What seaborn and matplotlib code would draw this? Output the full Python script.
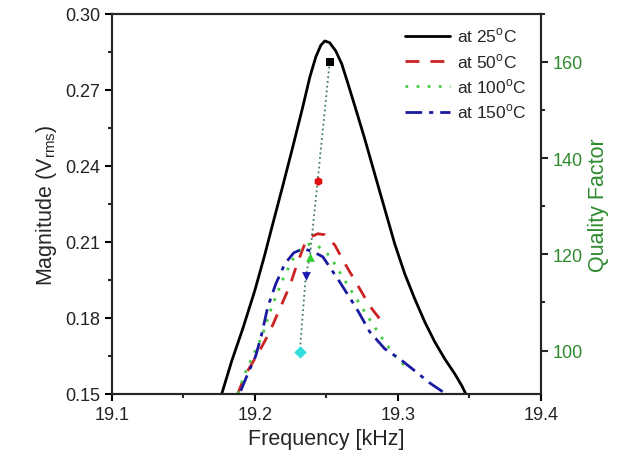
import numpy as np
import pandas as pd
import seaborn as sns
import matplotlib
matplotlib.use("Agg")
import matplotlib.pyplot as plt
from matplotlib.ticker import MultipleLocator, FormatStrFormatter

# Frequency response curves (kHz, Vrms)
f_25 = [19.1769, 19.1839, 19.1916, 19.2000, 19.2070, 19.2126, 19.2196,
        19.2266, 19.2336, 19.2385, 19.2427, 19.2462, 19.2490, 19.2524,
        19.2566, 19.2608, 19.2650, 19.2706, 19.2769, 19.2839, 19.2909,
        19.2979, 19.3049, 19.3119, 19.3189, 19.3259, 19.3329, 19.3399,
        19.3448, 19.3476]
m_25 = [0.1500, 0.1630, 0.1757, 0.1907, 0.2049, 0.2171, 0.2321,
        0.2475, 0.2633, 0.2750, 0.2830, 0.2876, 0.2893, 0.2886,
        0.2854, 0.2803, 0.2728, 0.2625, 0.2507, 0.2368, 0.2230,
        0.2092, 0.1974, 0.1875, 0.1784, 0.1705, 0.1638, 0.1579,
        0.1532, 0.1500]

f_50 = [19.1881, 19.1909, 19.1951, 19.2000, 19.2049, 19.2105, 19.2175,
        19.2245, 19.2301, 19.2350, 19.2392, 19.2441, 19.2490, 19.2559,
        19.2636, 19.2734, 19.2804, 19.2874]
m_50 = [0.1500, 0.1540, 0.1591, 0.1638, 0.1686, 0.1745, 0.1836,
        0.1926, 0.2021, 0.2092, 0.2120, 0.2132, 0.2128, 0.2088,
        0.2009, 0.1915, 0.1847, 0.1796]

f_100 = [19.1881, 19.1930, 19.1986, 19.2049, 19.2119, 19.2189, 19.2259,
         19.2322, 19.2385, 19.2441, 19.2524, 19.2636, 19.2755, 19.2874,
         19.2979, 19.3084]
m_100 = [0.1500, 0.1579, 0.1650, 0.1725, 0.1843, 0.1942, 0.2025,
         0.2072, 0.2092, 0.2084, 0.2045, 0.1942, 0.1836, 0.1733,
         0.1650, 0.1591]

f_150 = [19.1902, 19.1951, 19.2007, 19.2049, 19.2091, 19.2147, 19.2210,
         19.2273, 19.2336, 19.2399, 19.2476, 19.2594, 19.2713, 19.2804,
         19.2909, 19.3014, 19.3119, 19.3224, 19.3336]
m_150 = [0.1512, 0.1579, 0.1650, 0.1737, 0.1843, 0.1934, 0.2013,
         0.2057, 0.2072, 0.2064, 0.2041, 0.1942, 0.1836, 0.1745,
         0.1678, 0.1638, 0.1591, 0.1543, 0.1500]

# Quality factor at resonance for each temperature
q_freq = [19.2524, 19.2440, 19.2385, 19.2357, 19.2315]
q_value = [160, 135.3, 119.5, 115.6, 99.8]

labels = ["at 25$^{\\rm o}$C", "at 50$^{\\rm o}$C",
          "at 100$^{\\rm o}$C", "at 150$^{\\rm o}$C"]

sns.set_style("ticks")
plt.rcParams["font.family"] = ["Liberation Sans", "DejaVu Sans"]
plt.rcParams["mathtext.fontset"] = "custom"
plt.rcParams["mathtext.rm"] = "Liberation Sans"

fig = plt.figure(figsize=(6.28, 4.64), dpi=100)
ax = fig.add_axes([0.178, 0.149, 0.683, 0.819])

curves = [(f_25, m_25, "black", None),
          (f_50, m_50, "#cc2222", (5, 4)),
          (f_100, m_100, "#44cc44", (1, 3)),
          (f_150, m_150, "#1a1aa0", (6, 2.5, 1.5, 2.5))]

for (fx, my, col, dash), lab in zip(curves, labels):
    df = pd.DataFrame({"f": fx, "m": my})
    sns.lineplot(data=df, x="f", y="m", ax=ax, color=col, lw=2,
                 label=lab)
    ln = ax.lines[-1]
    ln.set_solid_joinstyle("round")
    ln.set_dash_joinstyle("round")
    if dash is not None:
        ln.set_dashes(dash)

ax.set_xlim(19.1, 19.4)
ax.set_ylim(0.15, 0.30)
ax.xaxis.set_major_locator(MultipleLocator(0.1))
ax.xaxis.set_minor_locator(MultipleLocator(0.05))
ax.yaxis.set_major_locator(MultipleLocator(0.03))
ax.yaxis.set_minor_locator(MultipleLocator(0.015))
ax.xaxis.set_major_formatter(FormatStrFormatter("%.1f"))
ax.yaxis.set_major_formatter(FormatStrFormatter("%.2f"))
ax.tick_params(which="major", length=5, width=1.5, labelsize=13,
               colors="black")
ax.tick_params(which="minor", length=3, width=1.5)
ax.tick_params(axis="both", labelcolor="#222222")
ax.set_xlabel("Frequency [kHz]", fontsize=15.5)
ax.set_ylabel("Magnitude (V$_{\\rm rms}$)", fontsize=15.5)
for sp in ax.spines.values():
    sp.set_visible(True)
    sp.set_linewidth(1.5)

ax.legend(loc="upper right", frameon=False, fontsize=12.5,
          handlelength=2.6, borderaxespad=0.3, labelspacing=0.38,
          handletextpad=0.4, bbox_to_anchor=(0.995, 1.0))

# Quality factor on the secondary axis
ax2 = ax.twinx()
qdf = pd.DataFrame({"f": q_freq, "q": q_value})
sns.lineplot(data=qdf, x="f", y="q", ax=ax2, color="#3f7f5f", lw=1.3,
             sort=False, linestyle=":")
marker_styles = ["s", "h", "^", "v", "D"]
marker_colors = ["black", "#e01010", "#33cc33", "#1a1ab0", "#33dddd"]
for fx, qy, mk, mc in zip(q_freq, q_value, marker_styles, marker_colors):
    ax2.scatter(fx, qy, marker=mk, color=mc, s=40, zorder=3, linewidths=0)

green = "#2e8b2e"
ax2.set_ylim(91, 170)
ax2.yaxis.set_major_locator(MultipleLocator(20))
ax2.yaxis.set_minor_locator(MultipleLocator(10))
ax2.tick_params(which="major", length=5, width=1.5, labelsize=13,
                labelcolor=green)
ax2.tick_params(which="minor", length=3, width=1.5)
ax2.set_ylabel("Quality Factor", fontsize=15.5, color=green)
ax2.set_xlabel("")
for sp in ax2.spines.values():
    sp.set_linewidth(1.5)

fig.savefig("out.png", dpi=100)
